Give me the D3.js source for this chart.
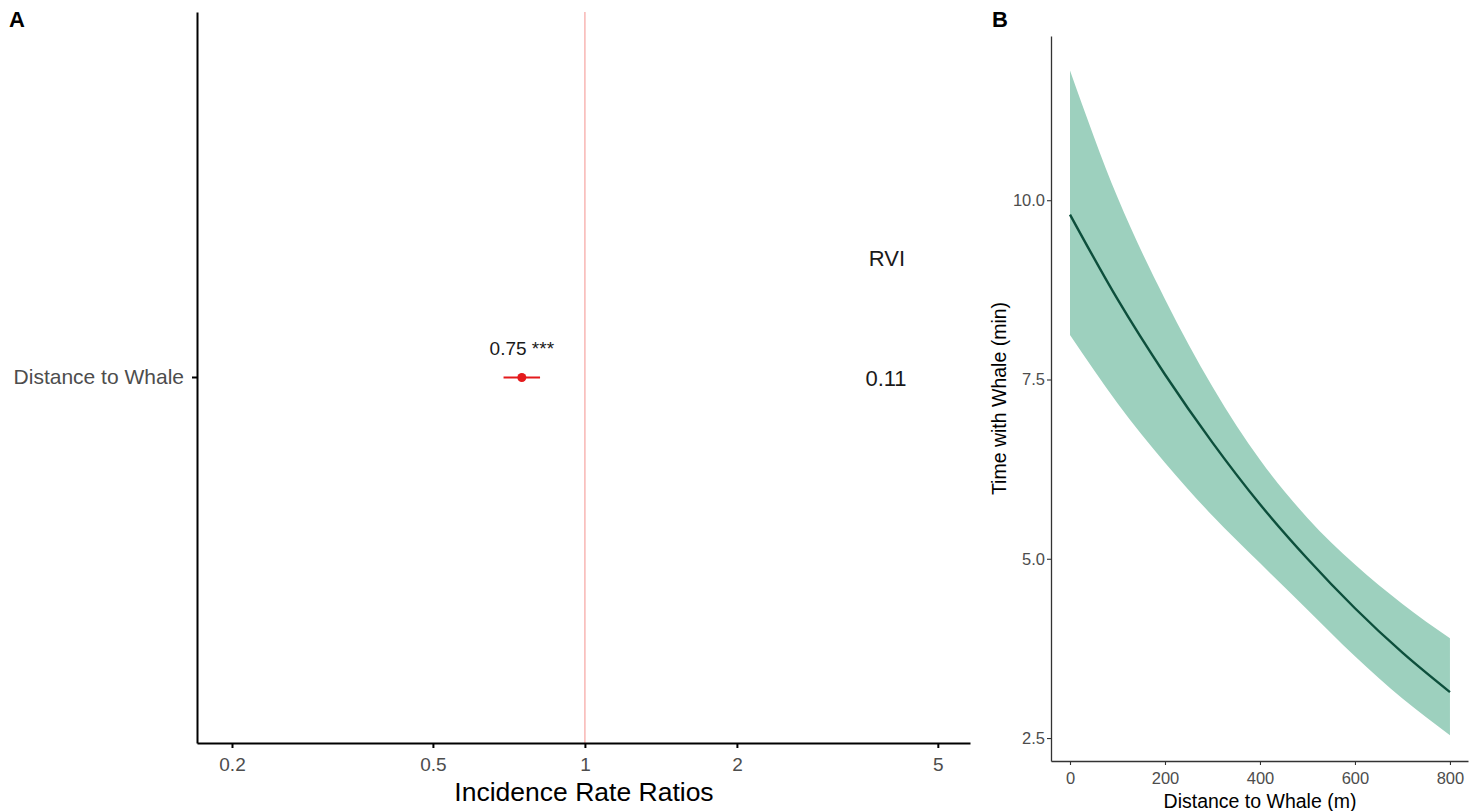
<!DOCTYPE html>
<html><head><meta charset="utf-8">
<script src="https://cdn.jsdelivr.net/npm/d3@7"></script>
<style>body{margin:0;background:#fff;}svg{display:block;font-family:"Liberation Sans",Arial,Helvetica,sans-serif;}</style>
</head><body>
<svg id="c" width="1481" height="811"></svg>
<script>
// Panel A data
const termsA = ["Distance to Whale"];
const irrEst = [0.75];
const irrLow = [0.69];
const irrHigh = [0.815];
const irrLabels = ["0.75 ***"];
const rviValues = ["0.11"];
const xTicksA = [0.2, 0.5, 1, 2, 5];

// Panel B data
const distance = [0, 100, 200, 300, 400, 500, 600, 700, 800];
const timeFit = [9.80, 8.62, 7.57, 6.62, 5.76, 5.00, 4.31, 3.69, 3.14];
const timeLower = [8.12, 7.17, 6.34, 5.60, 4.94, 4.29, 3.64, 3.05, 2.54];
const timeUpper = [11.81, 10.04, 8.62, 7.40, 6.38, 5.57, 4.92, 4.37, 3.89];
const xTicksB = [0, 200, 400, 600, 800];
const yTicksB = [2.5, 5.0, 7.5, 10.0];

const svg = d3.select("#c");

// ---------- Panel A ----------
const A = {left:197, right:970, top:12, bottom:743};
const xA = d3.scaleLog().domain([0.1705, 5.79]).range([A.left, A.right]);
const yA = d3.scaleBand().domain(termsA).range([A.bottom, A.top]);
const gA = svg.append("g");

gA.append("line").attr("x1", xA(1)).attr("x2", xA(1)).attr("y1", A.top).attr("y2", A.bottom)
  .attr("stroke", "#f6a3a0").attr("stroke-width", 1.2);

const xAxisA = gA.append("g").attr("transform", `translate(0,${A.bottom})`)
  .call(d3.axisBottom(xA).tickValues(xTicksA).tickFormat(d3.format("~g")).tickSize(5).tickSizeOuter(0));
xAxisA.select(".domain").attr("stroke", "#000").attr("stroke-width", 2);
xAxisA.selectAll(".tick line").attr("stroke", "#000").attr("stroke-width", 2);
xAxisA.selectAll(".tick text").attr("fill", "#4d4d4d").attr("font-size", 19).attr("dy", "1.05em");

const yAxisA = gA.append("g").attr("transform", `translate(${A.left},0)`)
  .call(d3.axisLeft(yA).tickSize(5).tickSizeOuter(0));
yAxisA.select(".domain").attr("stroke", "#000").attr("stroke-width", 2);
yAxisA.selectAll(".tick line").attr("stroke", "#000").attr("stroke-width", 2);
yAxisA.selectAll(".tick text").attr("fill", "#4d4d4d").attr("font-size", 21).attr("x", -13);

termsA.forEach((t, i) => {
  const cy = yA(t) + yA.bandwidth() / 2;
  gA.append("line").attr("x1", xA(irrLow[i])).attr("x2", xA(irrHigh[i]))
    .attr("y1", cy).attr("y2", cy).attr("stroke", "#e41a1c").attr("stroke-width", 2);
  gA.append("circle").attr("cx", xA(irrEst[i])).attr("cy", cy).attr("r", 4.5).attr("fill", "#e41a1c");
  gA.append("text").attr("x", xA(irrEst[i])).attr("y", cy - 23).attr("text-anchor", "middle")
    .attr("font-size", 19).attr("fill", "#1a1a1a").text(irrLabels[i]);
  gA.append("text").attr("x", 886).attr("y", cy + 8).attr("text-anchor", "middle")
    .attr("font-size", 22).attr("fill", "#1a1a1a").text(rviValues[i]);
});
gA.append("text").attr("x", 887).attr("y", 266).attr("text-anchor", "middle")
  .attr("font-size", 22).attr("fill", "#1a1a1a").text("RVI");

gA.append("text").attr("x", 584).attr("y", 801).attr("text-anchor", "middle")
  .attr("font-size", 26.5).attr("fill", "#000").text("Incidence Rate Ratios");
svg.append("text").attr("x", 9).attr("y", 27).attr("font-size", 22).attr("font-weight", "bold").text("A");

// ---------- Panel B ----------
const B = {left:1051, right:1468, top:36, bottom:761};
const xB = d3.scaleLinear().domain([-40, 838]).range([B.left, B.right]);
const yB = d3.scaleLinear().domain([2.18, 12.29]).range([B.bottom, B.top]);
const gB = svg.append("g");

const area = d3.area().x((d, i) => xB(distance[i])).y0((d, i) => yB(timeLower[i])).y1((d, i) => yB(timeUpper[i]))
  .curve(d3.curveMonotoneX);
gB.append("path").datum(distance).attr("d", area).attr("fill", "#9dd0be");
const line = d3.line().x((d, i) => xB(distance[i])).y((d, i) => yB(timeFit[i])).curve(d3.curveMonotoneX);
gB.append("path").datum(distance).attr("d", line).attr("fill", "none").attr("stroke", "#0d4f3c").attr("stroke-width", 2.4);

const xAxisB = gB.append("g").attr("transform", `translate(0,${B.bottom})`)
  .call(d3.axisBottom(xB).tickValues(xTicksB).tickSize(4).tickSizeOuter(0));
xAxisB.select(".domain").attr("stroke", "#333").attr("stroke-width", 1.3);
xAxisB.selectAll(".tick line").attr("stroke", "#333").attr("stroke-width", 1.1);
xAxisB.selectAll(".tick text").attr("fill", "#4d4d4d").attr("font-size", 16.5).attr("dy", "0.95em");

const yAxisB = gB.append("g").attr("transform", `translate(${B.left},0)`)
  .call(d3.axisLeft(yB).tickValues(yTicksB).tickFormat(d3.format(".1f")).tickSize(4).tickSizeOuter(0));
yAxisB.select(".domain").attr("stroke", "#333").attr("stroke-width", 1.3);
yAxisB.selectAll(".tick line").attr("stroke", "#333").attr("stroke-width", 1.1);
yAxisB.selectAll(".tick text").attr("fill", "#4d4d4d").attr("font-size", 16.5).attr("x", -6);

gB.append("text").attr("x", 1260).attr("y", 808).attr("text-anchor", "middle")
  .attr("font-size", 19.5).attr("fill", "#000").text("Distance to Whale (m)");
gB.append("text").attr("transform", `translate(1006,${(B.top + B.bottom) / 2}) rotate(-90)`)
  .attr("text-anchor", "middle").attr("font-size", 19.5).attr("fill", "#000").text("Time with Whale (min)");
svg.append("text").attr("x", 992).attr("y", 27).attr("font-size", 22).attr("font-weight", "bold").text("B");
</script>
</body></html>
